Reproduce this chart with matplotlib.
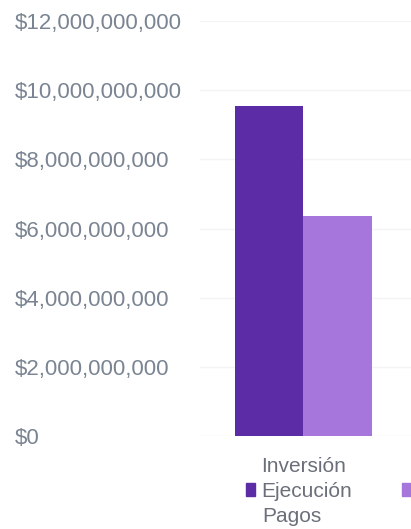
import matplotlib.pyplot as plt
from matplotlib.patches import Rectangle
from matplotlib.ticker import FuncFormatter

plt.rcParams['font.family'] = ['Liberation Sans', 'DejaVu Sans']

categories = ['Inversión']
series = ['Ejecución', 'Pagos']
ejecucion = [9.55e9]
pagos = [6.35e9]
colors = ['#5b2ca6', '#a676dc']
yticks = [0, 2e9, 4e9, 6e9, 8e9, 10e9, 12e9]

W, H = 411, 529
fig = plt.figure(figsize=(W / 100, H / 100), dpi=100)
ax = fig.add_axes([200 / W, 1 - 436 / H, 211 / W, 415 / H])

width = 0.4
ax.bar([0 - width / 2], ejecucion, width, color=colors[0], label=series[0])
ax.bar([0 + width / 2], pagos, width, color=colors[1], label=series[1])

ax.set_xlim(-0.605, 0.629)
ax.set_ylim(0, 12e9)
ax.set_yticks(yticks)
ax.yaxis.set_major_formatter(FuncFormatter(lambda v, p: '${:,.0f}'.format(v)))
ax.set_xticks([0])
ax.set_xticklabels(categories)

ax.grid(axis='y', color='#f4f4f4', linewidth=1)
ax.set_axisbelow(True)
for s in ax.spines.values():
    s.set_visible(False)

ax.tick_params(axis='y', length=0, pad=133, labelsize=16, labelcolor='#7a8492')
for lbl in ax.get_yticklabels():
    lbl.set_horizontalalignment('left')
ax.tick_params(axis='x', length=0, pad=15, labelsize=15, labelcolor='#6a6f79')

# legend row: first entry fits, the second label wraps onto the next line
handles = [Rectangle((0, 0), 1, 1, color=c) for c in colors]
leg = fig.legend(handles, [series[0], ''], ncol=2, loc='upper left',
                 bbox_to_anchor=(246 / W, 1 - 482 / H), frameon=False,
                 fontsize=15, handlelength=0.45, handleheight=0.6,
                 handletextpad=0.3, columnspacing=2.4, borderpad=0,
                 borderaxespad=0)
for t in leg.get_texts():
    t.set_color('#6a6f79')
fig.text(292 / W, 1 - 516 / H, series[1], ha='center', va='center',
         fontsize=15, color='#6a6f79')

fig.savefig('out.png', dpi=100)
